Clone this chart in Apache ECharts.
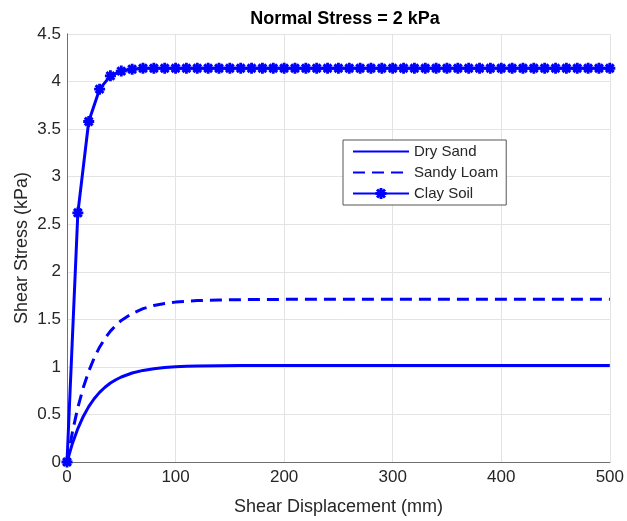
<!DOCTYPE html>
<html>
<head>
<meta charset="utf-8">
<script src="https://cdn.jsdelivr.net/npm/echarts@6/dist/echarts.min.js"></script>
<style>
  html, body { margin: 0; padding: 0; background: #fff; }
  #chart { width: 627px; height: 521px; }
</style>
</head>
<body>
<div id="chart"></div>
<script>
// shear displacement (mm) for the two smooth curves
const dispSmooth = [0, 5, 10, 15, 20, 25, 30, 35, 40, 45, 50, 60, 70, 80, 90, 100, 110, 120, 140, 160, 180, 200, 250, 300, 350, 400, 450, 500];
const drySand = [0, 0.195, 0.352, 0.479, 0.582, 0.665, 0.732, 0.786, 0.830, 0.865, 0.894, 0.936, 0.963, 0.981, 0.993, 1.001, 1.006, 1.009, 1.012, 1.014, 1.015, 1.015, 1.015, 1.015, 1.015, 1.015, 1.015, 1.015];
const sandyLoam = [0, 0.316, 0.573, 0.783, 0.954, 1.093, 1.207, 1.300, 1.376, 1.438, 1.488, 1.562, 1.612, 1.645, 1.667, 1.681, 1.691, 1.697, 1.704, 1.707, 1.709, 1.71, 1.71, 1.71, 1.71, 1.71, 1.71, 1.71];

// clay soil, sampled every 10 mm
const dispClay = [0, 10, 20, 30, 40, 50, 60, 70, 80, 90, 100, 110, 120, 130, 140, 150, 160, 170, 180, 190, 200,
  210, 220, 230, 240, 250, 260, 270, 280, 290, 300, 310, 320, 330, 340, 350, 360, 370, 380, 390, 400,
  410, 420, 430, 440, 450, 460, 470, 480, 490, 500];
const claySoil = [0, 2.62, 3.58, 3.92, 4.06, 4.11, 4.13, 4.14, 4.14, 4.14, 4.14, 4.14, 4.14, 4.14, 4.14, 4.14, 4.14, 4.14, 4.14, 4.14, 4.14,
  4.14, 4.14, 4.14, 4.14, 4.14, 4.14, 4.14, 4.14, 4.14, 4.14, 4.14, 4.14, 4.14, 4.14, 4.14, 4.14, 4.14, 4.14, 4.14, 4.14,
  4.14, 4.14, 4.14, 4.14, 4.14, 4.14, 4.14, 4.14, 4.14, 4.14];

const xTicks = { min: 0, max: 500, interval: 100 };
const yTicks = { min: 0, max: 4.5, interval: 0.5 };

const zip = (xs, ys) => xs.map((x, i) => [x, ys[i]]);

// matlab style '*' marker
const asterisk = 'path://M-1.3,-5L1.3,-5L1.3,5L-1.3,5Z' +
  'M-5,-1.3L5,-1.3L5,1.3L-5,1.3Z' +
  'M-4.5,-2.6L-2.6,-4.5L4.5,2.6L2.6,4.5Z' +
  'M2.6,-4.5L4.5,-2.6L-2.6,4.5L-4.5,2.6Z';

const font = 'Liberation Sans, Arial, Helvetica, sans-serif';
const axisColor = '#707070';
const textColor = '#262626';

const chart = echarts.init(document.getElementById('chart'));

// top / right edges of the box
const boxAxis = {
  show: true,
  axisLine: { show: true, lineStyle: { color: axisColor, width: 1 } },
  axisTick: { show: false },
  axisLabel: { show: false },
  splitLine: { show: false }
};

const option = {
  backgroundColor: '#fff',
  animation: false,
  title: {
    text: 'Normal Stress = 2 kPa',
    left: 340,
    textAlign: 'center',
    top: 5,
    textStyle: { fontFamily: font, fontSize: 18, fontWeight: 'bold', color: '#000' }
  },
  grid: { left: 67, right: 15, top: 34, bottom: 57 },
  legend: {
    orient: 'vertical',
    left: 343,
    top: 140,
    itemWidth: 56,
    itemHeight: 14,
    itemGap: 6,
    padding: [4, 8, 4, 9],
    backgroundColor: '#fff',
    borderColor: '#555',
    borderWidth: 1,
    borderRadius: 0,
    textStyle: { fontFamily: font, fontSize: 15, color: textColor, lineHeight: 14 },
    data: [
      { name: 'Dry Sand', itemStyle: { opacity: 0 } },
      { name: 'Sandy Loam', itemStyle: { opacity: 0 } },
      { name: 'Clay Soil' }
    ]
  },
  xAxis: [
    {
      type: 'value',
      min: xTicks.min, max: xTicks.max, interval: xTicks.interval,
      name: 'Shear Displacement (mm)',
      nameLocation: 'middle',
      nameGap: 36,
      nameMoveOverlap: false,
      nameTextStyle: { fontFamily: font, fontSize: 18, color: textColor },
      axisLine: { show: true, onZero: false, lineStyle: { color: axisColor, width: 1 } },
      axisTick: { show: false },
      axisLabel: { fontFamily: font, fontSize: 17, color: textColor, margin: 7 },
      splitLine: { show: true, lineStyle: { color: '#e3e3e3', width: 1 } }
    },
    Object.assign({ type: 'value', position: 'top', min: xTicks.min, max: xTicks.max, interval: xTicks.interval }, boxAxis)
  ],
  yAxis: [
    {
      type: 'value',
      min: yTicks.min, max: yTicks.max, interval: yTicks.interval,
      name: 'Shear Stress (kPa)',
      nameLocation: 'middle',
      nameGap: 36,
      nameMoveOverlap: false,
      nameTextStyle: { fontFamily: font, fontSize: 18, color: textColor },
      axisLine: { show: true, onZero: false, lineStyle: { color: axisColor, width: 1 } },
      axisTick: { show: false },
      axisLabel: { fontFamily: font, fontSize: 17, color: textColor, margin: 6 },
      splitLine: { show: true, lineStyle: { color: '#e3e3e3', width: 1 } }
    },
    Object.assign({ type: 'value', position: 'right', min: yTicks.min, max: yTicks.max, interval: yTicks.interval }, boxAxis)
  ],
  series: [
    {
      name: 'Dry Sand',
      type: 'line',
      data: zip(dispSmooth, drySand),
      showSymbol: false,
      symbol: 'none',
      lineStyle: { color: '#0000ff', width: 3 },
      itemStyle: { color: '#0000ff' }
    },
    {
      name: 'Sandy Loam',
      type: 'line',
      data: zip(dispSmooth, sandyLoam),
      showSymbol: false,
      symbol: 'none',
      lineStyle: { color: '#0000ff', width: 3, type: [12, 7] },
      itemStyle: { color: '#0000ff' }
    },
    {
      name: 'Clay Soil',
      type: 'line',
      data: zip(dispClay, claySoil),
      symbol: asterisk,
      symbolSize: 11,
      lineStyle: { color: '#0000ff', width: 3 },
      itemStyle: { color: '#0000ff' }
    }
  ]
};

chart.setOption(option);
</script>
</body>
</html>
